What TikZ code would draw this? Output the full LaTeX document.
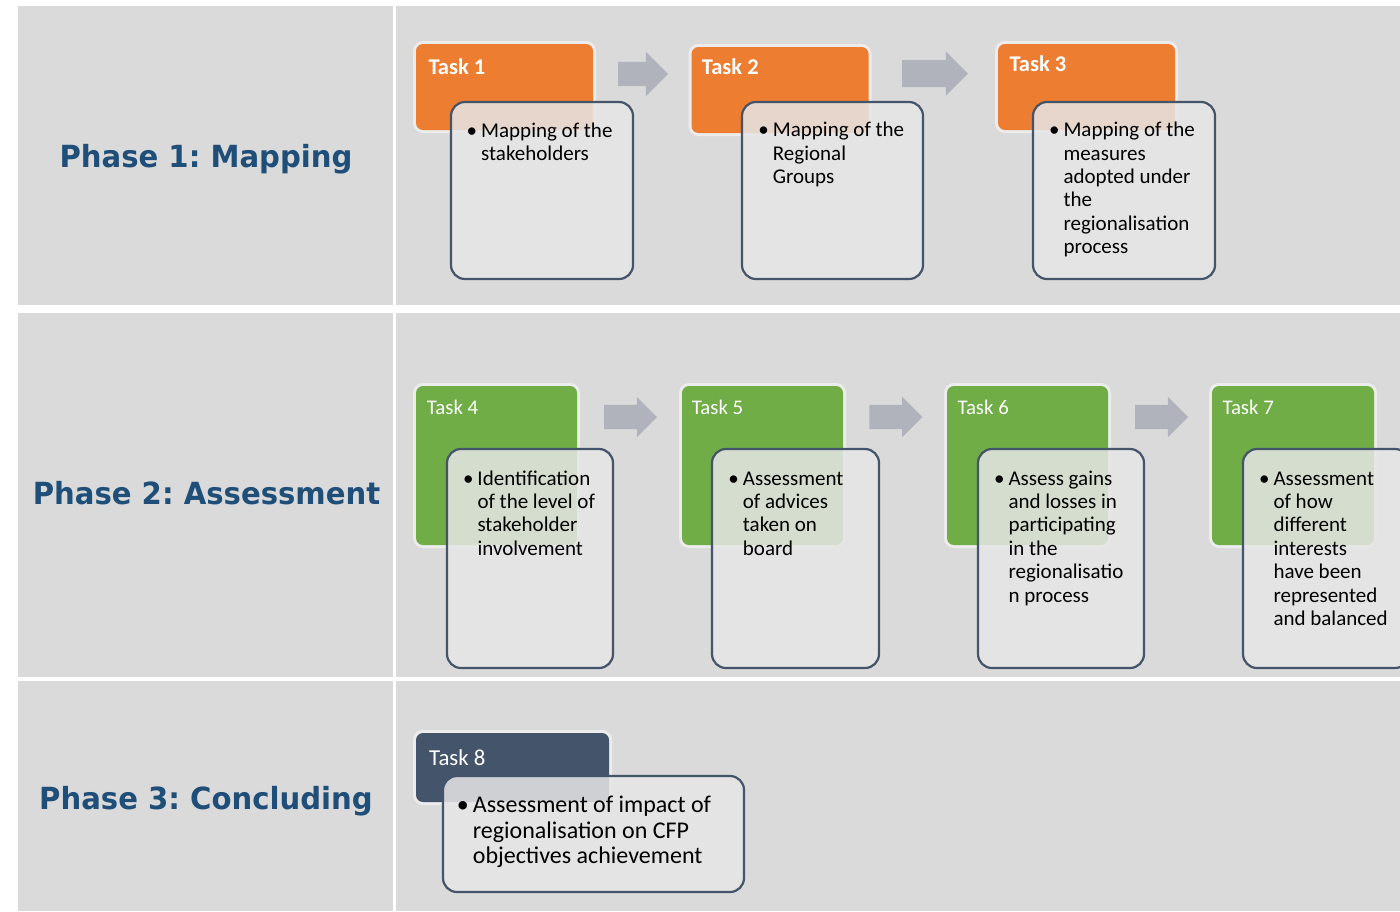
\documentclass[tikz,border=0pt]{standalone}
\usepackage{fontspec}
\setmainfont{Carlito}
\newfontfamily\phasefont[FakeStretch=0.955]{DejaVu Sans}
\usetikzlibrary{shapes.arrows}
\definecolor{panelgray}{RGB}{218,218,218}
\definecolor{bodygray}{RGB}{231,230,230}
\definecolor{slate}{RGB}{68,84,106}
\definecolor{taskorange}{RGB}{237,125,49}
\definecolor{taskgreen}{RGB}{112,173,71}
\definecolor{arrowgray}{RGB}{176,179,187}
\definecolor{phaseblue}{RGB}{31,78,121}
\definecolor{halo}{RGB}{236,236,236}
\newcommand{\bul}{\leavevmode\llap{•\hspace{4pt}}}
\frenchspacing
\begin{document}
\begin{tikzpicture}[x=1pt,y=-1pt,
  panel/.style={fill=panelgray,draw=none},
  phase/.style={anchor=base,inner sep=0pt,text=phaseblue,
    font=\phasefont\bfseries\fontsize{30.5}{36}\selectfont},
  hdr/.style={anchor=north west,inner sep=0pt,outer sep=0pt,rounded corners=7pt,
    draw=none,preaction={draw=halo,line width=6pt}},
  hdrlabel/.style={anchor=base west,inner sep=0pt,text=white},
  boldlabel/.style={hdrlabel,font=\bfseries\fontsize{22.5}{26}\selectfont},
  plainlabel/.style={hdrlabel,font=\fontsize{20.8}{25}\selectfont},
  body/.style={anchor=north west,inner sep=0pt,outer sep=0pt,rounded corners=14pt,
    draw=slate,line width=2.2pt,fill=bodygray,fill opacity=0.85},
  bodytext/.style={anchor=base west,inner sep=0pt,text=black,
    font=\fontsize{21}{23.4}\selectfont},
  bigtext/.style={anchor=base west,inner sep=0pt,text=black,
    font=\fontsize{24}{25.6}\selectfont},
  blockarrow/.style={single arrow,fill=arrowgray,draw=none,anchor=tail,
    inner xsep=0pt,outer sep=0pt,single arrow head extend=#1},
]
\useasboundingbox (0,0) rectangle (1400,911);
\clip (0,0) rectangle (1400,911);
\fill[white] (0,0) rectangle (1400,911);
% panels
\fill[panel] (18,6) rectangle (393,305);
\fill[panel] (396,6) rectangle (1400,305);
\fill[panel] (18,313) rectangle (393,677);
\fill[panel] (396,313) rectangle (1400,677);
\fill[panel] (18,681) rectangle (393,911);
\fill[panel] (396,681) rectangle (1400,911);
% phase labels
\node[phase] (p1) at (206,167.7) {Phase 1: Mapping};
\node[phase] (p2) at (206.5,504.3) {Phase 2: Assessment};
\node[phase] (p3) at (206,809) {Phase 3: Concluding};
% row 1 headers
\node[hdr,fill=taskorange,minimum width=177pt,minimum height=86pt] (t1) at (416,44) {};
\node[hdr,fill=taskorange,minimum width=177pt,minimum height=86pt] (t2) at (691.5,47) {};
\node[hdr,fill=taskorange,minimum width=177pt,minimum height=86pt] (t3) at (998,44) {};
\node[boldlabel] (t1l) at (428.3,74.3) {Task 1};
\node[boldlabel] (t2l) at (701.7,74.3) {Task 2};
\node[boldlabel] (t3l) at (1009.3,71.7) {Task 3};
% row 1 arrows
\node[blockarrow=10pt,inner ysep=12pt,minimum height=50pt] (a1) at (618,74) {};
\node[blockarrow=8.7pt,inner ysep=13.3pt,minimum height=66pt] (a2) at (902,73.7) {};
% row 1 bodies
\node[body,minimum width=182pt,minimum height=177pt] (b1) at (451,102) {};
\node[body,minimum width=181pt,minimum height=177pt] (b2) at (742,102) {};
\node[body,minimum width=182pt,minimum height=177pt] (b3) at (1033,102) {};
\node[bodytext] (b1t) at (481,137.3) {\parbox[t]{150pt}{\raggedright\bul Mapping of the\\stakeholders}};
\node[bodytext] (b2t) at (772.7,136.7) {\parbox[t]{150pt}{\raggedright\bul Mapping of the\\Regional\\Groups}};
\node[bodytext] (b3t) at (1063.3,136.7) {\parbox[t]{150pt}{\raggedright\bul Mapping of the\\measures\\adopted under\\the\\regionalisation\\process}};
% row 2 headers
\node[hdr,fill=taskgreen,minimum width=161pt,minimum height=159pt] (t4) at (416,386) {};
\node[hdr,fill=taskgreen,minimum width=161pt,minimum height=159pt] (t5) at (682,386) {};
\node[hdr,fill=taskgreen,minimum width=161pt,minimum height=159pt] (t6) at (947,386) {};
\node[hdr,fill=taskgreen,minimum width=162pt,minimum height=159pt] (t7) at (1212,386) {};
\node[plainlabel] (t4l) at (426.7,414) {Task 4};
\node[plainlabel] (t5l) at (691.7,414) {Task 5};
\node[plainlabel] (t6l) at (957.3,414) {Task 6};
\node[plainlabel] (t7l) at (1222.3,414) {Task 7};
% row 2 arrows
\node[blockarrow=8pt,inner ysep=12pt,minimum height=53pt] (a3) at (604,417) {};
\node[blockarrow=8pt,inner ysep=12pt,minimum height=53pt] (a4) at (869.3,417) {};
\node[blockarrow=8pt,inner ysep=12pt,minimum height=53pt] (a5) at (1135,417) {};
% row 2 bodies
\node[body,minimum width=166pt,minimum height=219pt] (b4) at (447,449) {};
\node[body,minimum width=167pt,minimum height=219pt] (b5) at (712,449) {};
\node[body,minimum width=166pt,minimum height=219pt] (b6) at (978,449) {};
\node[body,minimum width=166pt,minimum height=219pt] (b7) at (1243,449) {};
\node[bodytext] (b4t) at (477.3,485) {\parbox[t]{150pt}{\raggedright\bul Identification\\of the level of\\stakeholder\\involvement}};
\node[bodytext] (b5t) at (742.7,485) {\parbox[t]{150pt}{\raggedright\bul Assessment\\of advices\\taken on\\board}};
\node[bodytext] (b6t) at (1008.3,485) {\parbox[t]{150pt}{\raggedright\bul Assess gains\\and losses in\\participating\\in the\\regionalisatio\\n process}};
\node[bodytext] (b7t) at (1273.3,485) {\parbox[t]{150pt}{\raggedright\bul Assessment\\of how\\different\\interests\\have been\\represented\\and balanced}};
% row 3
\node[hdr,fill=slate,minimum width=193pt,minimum height=69pt] (t8) at (416,733) {};
\node[hdrlabel,font=\fontsize{22.8}{27}\selectfont] (t8l) at (429,765) {Task 8};
\node[body,minimum width=301pt,minimum height=116pt] (b8) at (443,776) {};
\node[bigtext] (b8t) at (472.7,812.7) {\parbox[t]{265pt}{\raggedright\bul Assessment of impact of\\regionalisation on CFP\\objectives achievement}};
\end{tikzpicture}
\end{document}
